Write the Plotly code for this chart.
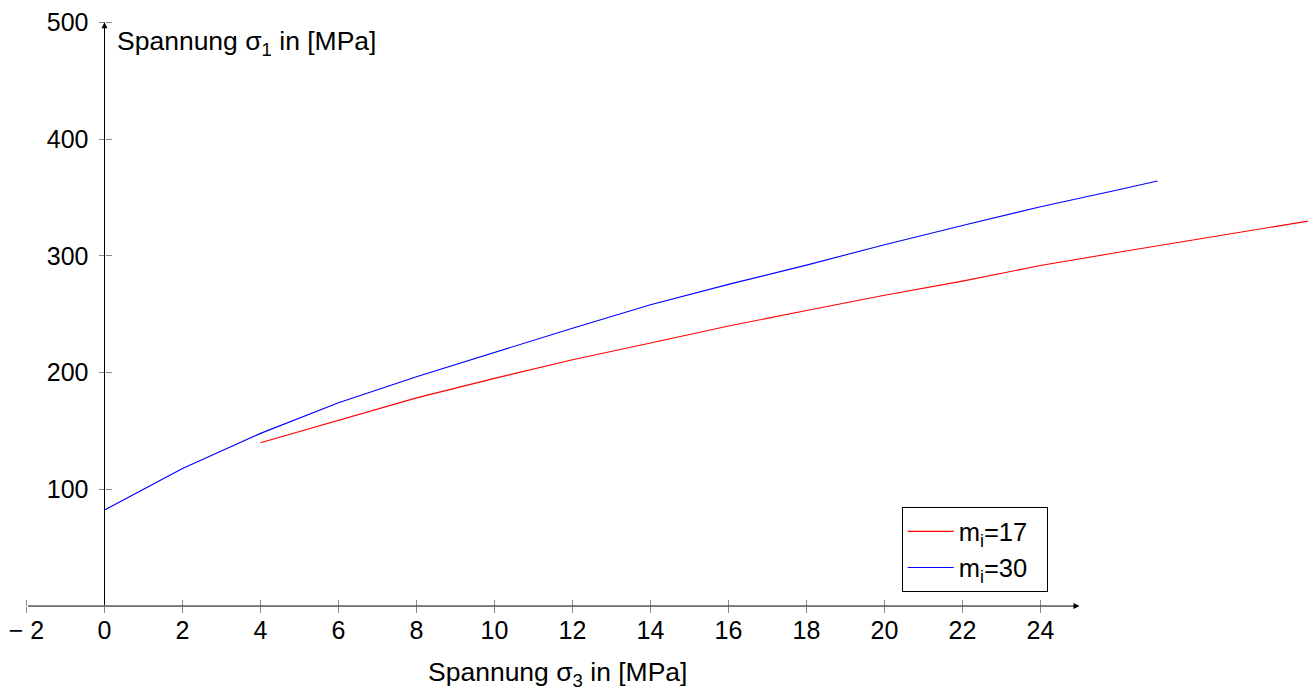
import plotly.graph_objects as go

# --- data ---
sigma3_mi17 = [4, 6, 8, 10, 12, 14, 16, 18, 20, 22, 24, 26, 28, 30, 32]
sigma1_mi17 = [139.9, 159.3, 178.3, 195.0, 211.0, 225.3, 239.8, 253.2, 266.2, 278.3, 291.7, 303.0, 314.2, 325.3, 336.0]

sigma3_mi30 = [0, 2, 4, 6, 8, 10, 12, 14, 16, 18, 20, 22, 24, 26, 27]
sigma1_mi30 = [82.2, 117.9, 147.9, 174.1, 196.4, 217.5, 238.0, 258.0, 275.5, 292.0, 309.5, 326.0, 342.0, 356.6, 364.0]

x_ticks = [-2, 0, 2, 4, 6, 8, 10, 12, 14, 16, 18, 20, 22, 24]
x_ticklabels = ["\u2212 2", "0", "2", "4", "6", "8", "10", "12", "14", "16", "18", "20", "22", "24"]
y_ticks = [100, 200, 300, 400, 500]
y_ticklabels = ["100", "200", "300", "400", "500"]

series_names = ["m<sub>i</sub>=17&nbsp;&nbsp;", "m<sub>i</sub>=30&nbsp;&nbsp;"]
series_colors = ["#ff0000", "#0000ff"]

x_axis_min, x_axis_max = -2, 25
y_axis_min, y_axis_max = 0, 500

# --- layout geometry (page has an 8px body margin) ---
OFF = 8
W, H = 1316 - OFF, 690 - OFF
X0_PX, X_SCALE = 104.5 - OFF, 39.0        # px of sigma3 = 0, px per unit
Y0_PX, Y_SCALE = 606.05 - OFF, 1.1675     # px of sigma1 = 0, px per unit

x_range = [(0 - X0_PX) / X_SCALE, (W - X0_PX) / X_SCALE]
y_range = [(Y0_PX - H) / Y_SCALE, Y0_PX / Y_SCALE]

FONT = "Liberation Sans, Arial, Helvetica, sans-serif"
FS = 25
FS_TITLE = 26.5
FS_LEG = 25.5

fig = go.Figure()
fig.add_trace(go.Scatter(x=sigma3_mi17, y=sigma1_mi17, mode="lines", name=series_names[0],
                         line=dict(color=series_colors[0], width=1.1)))
fig.add_trace(go.Scatter(x=sigma3_mi30, y=sigma1_mi30, mode="lines", name=series_names[1],
                         line=dict(color=series_colors[1], width=1.1)))

xpos = (H - Y0_PX) / H
ypos = X0_PX / W

fig.update_layout(
    width=W, height=H,
    margin=dict(l=0, r=0, t=0, b=0),
    paper_bgcolor="white", plot_bgcolor="white",
    font=dict(family=FONT, size=FS, color="black"),
    xaxis=dict(range=x_range, anchor="free", position=xpos, showgrid=False, zeroline=False,
               showline=False, tickmode="array", tickvals=x_ticks, ticktext=x_ticklabels,
               ticks="outside", ticklen=6, tickwidth=1, tickcolor="#888888",
               tickfont=dict(family=FONT, size=FS, color="black"), ticklabelstandoff=-4),
    xaxis2=dict(overlaying="x", matches="x", anchor="free", position=xpos, side="top",
                showgrid=False, zeroline=False, showline=False, tickmode="array",
                tickvals=x_ticks, ticks="outside", ticklen=6, tickwidth=1,
                tickcolor="#888888", showticklabels=False),
    yaxis=dict(range=y_range, anchor="free", position=ypos, showgrid=False, zeroline=False,
               showline=False, tickmode="array", tickvals=y_ticks, ticktext=y_ticklabels,
               ticks="outside", ticklen=6, tickwidth=1, tickcolor="#888888",
               tickfont=dict(family=FONT, size=FS, color="black"), ticklabelstandoff=5),
    yaxis2=dict(overlaying="y", matches="y", anchor="free", position=ypos, side="right",
                showgrid=False, zeroline=False, showline=False, tickmode="array",
                tickvals=y_ticks, ticks="outside", ticklen=6, tickwidth=1,
                tickcolor="#888888", showticklabels=False),
    showlegend=True,
    legend=dict(x=(901.7 - OFF) / W, y=1 - (507.3 - OFF) / H, xanchor="left", yanchor="top",
                bgcolor="white", bordercolor="black", borderwidth=1,
                font=dict(family=FONT, size=FS_LEG, color="black"), itemwidth=46,
                tracegroupgap=0),
)

# invisible trace so the secondary (tick-only) axes are drawn
fig.add_trace(go.Scatter(x=[x_axis_min], y=[y_axis_min], xaxis="x2", yaxis="y2",
                         mode="markers", marker=dict(opacity=0), showlegend=False,
                         hoverinfo="skip"))

# axis lines with arrow heads
fig.add_annotation(x=x_axis_max, y=0, ax=x_axis_min, ay=0, xref="x", yref="y",
                   axref="x", ayref="y", text="", showarrow=True, arrowhead=2,
                   arrowsize=1.2, arrowwidth=1, arrowcolor="black")
fig.add_annotation(x=0, y=y_axis_max, ax=0, ay=y_axis_min, xref="x", yref="y",
                   axref="x", ayref="y", text="", showarrow=True, arrowhead=2,
                   arrowsize=1.2, arrowwidth=1, arrowcolor="black")

# axis titles
fig.add_annotation(x=(117 - OFF - 2) / W, y=1 - (43 - OFF) / H, xref="paper", yref="paper",
                   text="Spannung \u03c3<sub>1</sub> in [MPa]", showarrow=False,
                   xanchor="left", yanchor="middle",
                   font=dict(family=FONT, size=FS_TITLE, color="black"))
fig.add_annotation(x=(557.5 - OFF) / W, y=1 - (674 - OFF) / H, xref="paper", yref="paper",
                   text="Spannung \u03c3<sub>3</sub> in [MPa]", showarrow=False,
                   xanchor="center", yanchor="middle",
                   font=dict(family=FONT, size=FS_TITLE, color="black"))

fig.write_html("out.html")
